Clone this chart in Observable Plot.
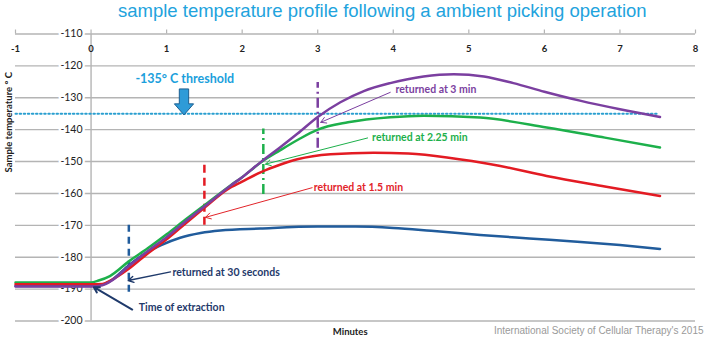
<!DOCTYPE html>
<html><head><meta charset="utf-8">
<script src="https://cdn.jsdelivr.net/npm/d3@7"></script>
<script src="https://cdn.jsdelivr.net/npm/@observablehq/plot@0.6"></script>
<style>
body{margin:0;background:#fff;width:708px;height:344px;overflow:hidden;}
#title{height:24px;font-family:"Liberation Sans",Arial,sans-serif;font-size:18.5px;color:#22a3dd;padding-left:118px;line-height:22px;white-space:nowrap;}
#chart svg{display:block;}
</style></head><body>
<div id="title">sample temperature profile following a ambient picking operation</div>
<div id="chart"></div>
<script>
// ---- axes ----
const xTicks = [-1, 0, 1, 2, 3, 4, 5, 6, 7, 8];
const xTickLabels = ["-1", "0", "1", "2", "3", "4", "5", "6", "7", "8"];
const yTicks = [-110, -120, -130, -140, -150, -160, -170, -180, -190, -200];
const yTickLabels = ["-110", "-120", "-130", "-140", "-150", "-160", "-170", "-180", "-190", "-200"];

// ---- series (minutes, temperature °C) ----
const seriesNames = ["returned at 30 seconds", "returned at 2.25 min", "returned at 1.5 min", "returned at 3 min"];
const blueX = [-1, 0, 0.15, 0.25, 0.5, 0.62, 0.74, 0.92, 1.18, 1.45, 1.71, 2.24, 3, 3.5, 4, 4.5, 5.15, 5.8, 6.48, 7, 7.53];
const blueY = [-189, -189, -188.6, -187.5, -182.5, -180.3, -178.5, -176.3, -173.9, -172.4, -171.6, -171, -170.4, -170.4, -170.8, -171.7, -173, -174.1, -175.2, -176.2, -177.4];
const greenX = [-1, 0, 0.1, 0.25, 0.5, 0.75, 1, 1.25, 1.5, 1.85, 2, 2.25, 2.5, 2.75, 3, 3.4, 3.96, 4.4, 5.15, 6.03, 6.8, 7.53];
const greenY = [-187.9, -187.9, -187.3, -185.9, -181.3, -177.2, -172.8, -168.2, -163.7, -157.4, -154.9, -150.2, -146.5, -143, -140, -137.7, -136.1, -135.6, -136.2, -139.3, -142.5, -145.6];
const redX = [-1, 0, 0.15, 0.25, 0.5, 0.75, 1, 1.25, 1.5, 1.8, 2, 2.25, 2.5, 2.73, 3.17, 3.74, 4.2, 4.71, 5.4, 6.03, 6.8, 7.53];
const redY = [-188.5, -188.5, -188.4, -187.4, -183.6, -178.8, -174.4, -169.4, -164.5, -158.8, -156.3, -153.3, -151, -149.3, -147.7, -147.2, -147.5, -148.7, -151.3, -154.5, -157.8, -160.8];
const purpleX = [-1, 0, 0.15, 0.25, 0.5, 0.75, 1, 1.25, 1.5, 1.85, 2, 2.25, 2.5, 2.73, 3, 3.3, 3.61, 3.96, 4.4, 4.8, 5.2, 5.59, 6, 6.47, 7, 7.53];
const purpleY = [-189.2, -189.2, -188.8, -187.7, -182.8, -178.1, -173.7, -168.8, -164.1, -157.5, -154.9, -150.1, -145.6, -141.3, -136, -131.4, -127.9, -125.4, -123.3, -122.6, -123.3, -125.4, -128.1, -130.9, -133.6, -136];

// ---- threshold ----
const thresholdValue = -135;
const thresholdX = [-1, 7.5];
const thresholdLabel = "-135° C threshold";
const thresholdLabelPos = [1.24, -124.1];
const thresholdArrowPos = [1.23, -131.3];

// ---- "returned" dashed markers ----
const markerX = [0.5, 1.5, 2.28, 3.0];
const markerY1 = [-191, -170, -160.3, -145.8];
const markerY2 = [-169.8, -149.8, -139.8, -125.2];

// ---- annotations ----
const annotLabels = ["Time of extraction", "returned at 30 seconds", "returned at 1.5 min", "returned at 2.25 min", "returned at 3 min"];
const annotTextX = [0.632, 1.078, 2.947, 3.72, 4.03];
const annotTextY = [-195.8, -184.7, -158.2, -142.5, -127.5];
const arrowX1 = [0.545, 1.052, 2.926, 3.66, 3.96];
const arrowY1 = [-196.4, -184.6, -158.2, -142.6, -128.3];
const arrowX2 = [0.037, 0.492, 1.515, 2.31, 3.04];
const arrowY2 = [-189.4, -187.3, -167.5, -150.8, -137.7];

const xLabel = "Minutes";
const xLabelX = 3.43;
const yLabel = "Sample temperature ° C";
const caption = "International Society of Cellular Therapy's 2015";

// ---- styles ----
const C_BLUE = "#215c9c", C_GREEN = "#1db04b", C_RED = "#e31b23", C_PURPLE = "#7b3fa0", C_NAVY = "#1f3a6b";
const lineColors = [C_BLUE, C_GREEN, C_RED, C_PURPLE];
const markerColors = [C_BLUE, C_RED, C_GREEN, C_PURPLE];
const markerDash = ["7,5", "8,5", "10,4,2,4", "10,4,2,4"];
const annotColors = [C_NAVY, C_NAVY, "#e2242a", "#1db04b", "#7b3fa0"];
const annotWidths = [2, 1.4, 1, 1, 1];
const GRID = "#b4b4b4";

const toRows = (xs, ys) => xs.map((x, i) => ({x, y: ys[i]}));
const seriesRows = [toRows(blueX, blueY), toRows(greenX, greenY), toRows(redX, redY), toRows(purpleX, purpleY)];

const blockArrow = {
  draw(ctx, size) {
    const r = Math.sqrt(size / Math.PI);
    const bw = r * 0.36, hw = r * 0.74, hh = r * 0.85;
    ctx.moveTo(-bw, -r);
    ctx.lineTo(bw, -r);
    ctx.lineTo(bw, r - hh);
    ctx.lineTo(hw, r - hh);
    ctx.lineTo(0, r);
    ctx.lineTo(-hw, r - hh);
    ctx.lineTo(-bw, r - hh);
    ctx.closePath();
  }
};

const marks = [
  // grid
  Plot.ruleY(yTicks, {y: d => d, x1: -1, x2: 8, stroke: GRID, strokeWidth: 1.4}),
  Plot.ruleX([0], {x: d => d, y1: -200, y2: -110, stroke: GRID, strokeWidth: 1.4}),
  Plot.ruleX(xTicks, {x: d => d, y1: -110, y2: -110, insetTop: -4, stroke: GRID, strokeWidth: 1.2}),
  // tick labels
  Plot.text(xTicks, {x: d => d, y: -110, dy: 15, text: (d, i) => xTickLabels[i], fontSize: 9.5, fontWeight: "bold", fill: "#222"}),
  Plot.text(yTicks, {x: 0, y: d => d, dx: -8.5, textAnchor: "end", text: (d, i) => yTickLabels[i], fontSize: 10.5, fill: "#222", stroke: "white", strokeWidth: 5}),
  // threshold
  Plot.line(thresholdX.map(x => ({x, y: thresholdValue})), {x: "x", y: "y", stroke: "#2a9fd0", strokeWidth: 2, strokeDasharray: "1.5,2.6"}),
  Plot.dot([thresholdArrowPos], {x: d => d[0], y: d => d[1], r: 13, symbol: blockArrow, fill: "#2e9bd8", stroke: "#1c5f91", strokeWidth: 1}),
  Plot.text([thresholdLabel], {x: thresholdLabelPos[0], y: thresholdLabelPos[1], text: d => d, fontSize: 12.5, fontWeight: "bold", fill: "#1ba0dc"}),
];
// dashed markers (one mark each, for their own dash pattern)
markerX.forEach((mx, i) => {
  marks.push(Plot.ruleX([mx], {x: d => d, y1: markerY1[i], y2: markerY2[i], stroke: markerColors[i], strokeWidth: 2.5, strokeDasharray: markerDash[i]}));
});
// series lines
seriesRows.forEach((rows, k) => {
  marks.push(Plot.line(rows, {x: "x", y: "y", stroke: lineColors[k], strokeWidth: 2.5, curve: "monotone-x"}));
});
marks.push(
  Plot.arrow(annotLabels, {x1: (d, i) => arrowX1[i], y1: (d, i) => arrowY1[i], x2: (d, i) => arrowX2[i], y2: (d, i) => arrowY2[i], stroke: (d, i) => annotColors[i], strokeWidth: (d, i) => annotWidths[i], headLength: 9}),
  Plot.text(annotLabels, {x: (d, i) => annotTextX[i], y: (d, i) => annotTextY[i], text: d => d, textAnchor: "start", fontSize: 10.5, fontWeight: "bold", fill: (d, i) => annotColors[i]}),
  Plot.text([xLabel], {x: xLabelX, frameAnchor: "bottom", dy: 13.5, text: d => d, fontSize: 9.5, fontWeight: "bold", fill: "#222"}),
  Plot.text([yLabel], {frameAnchor: "left", dx: -7, dy: -5, rotate: -90, text: d => d, fontSize: 9.5, fontWeight: "bold", fill: "#222"}),
  Plot.text([caption], {frameAnchor: "bottom-right", dx: 8, dy: 13, textAnchor: "end", text: d => d, fontSize: 10, fontFamily: "Liberation Sans", fill: "#9a9a9a"})
);

const chart = Plot.plot({
  width: 708,
  height: 320,
  marginLeft: 15,
  marginRight: 13,
  marginTop: 9.5,
  marginBottom: 23.5,
  x: {domain: [-1, 8], axis: null},
  y: {domain: [-200, -110], axis: null},
  style: {fontFamily: "Lato, sans-serif", background: "white", overflow: "visible"},
  marks
});
document.getElementById("chart").appendChild(chart);
</script>
</body></html>
